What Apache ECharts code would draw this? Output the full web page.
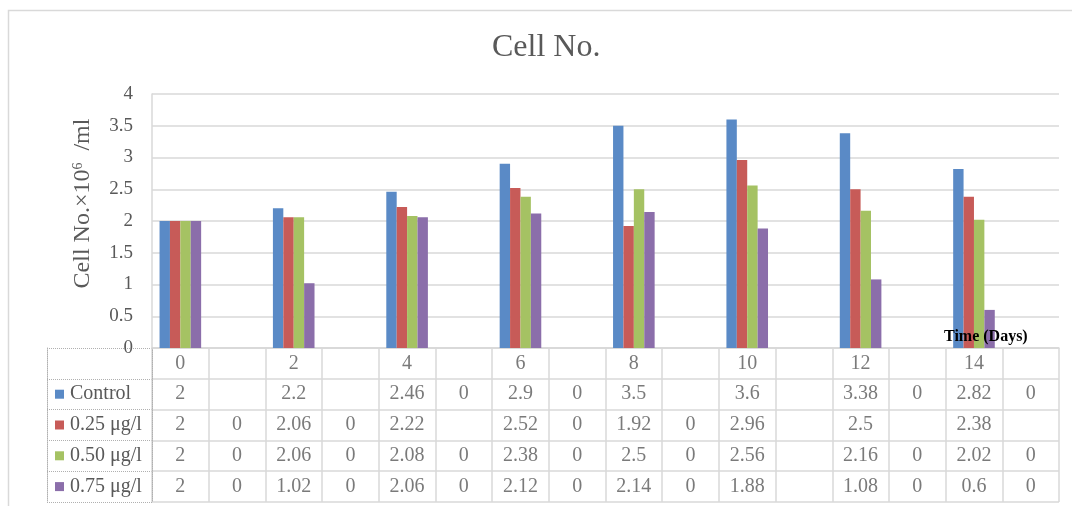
<!DOCTYPE html>
<html>
<head>
<meta charset="utf-8">
<script src="https://cdn.jsdelivr.net/npm/echarts@6/dist/echarts.min.js"></script>
<style>
  html, body { margin: 0; padding: 0; background: #fff; }
  #chart { width: 1072px; height: 506px; }
</style>
</head>
<body>
<div id="chart"></div>
<script>
// ---- data ----
const categories = ['0', '', '2', '', '4', '', '6', '', '8', '', '10', '', '12', '', '14', ''];
const seriesNames = ['Control', '0.25 μg/l', '0.50 μg/l', '0.75 μg/l'];
const control = [2, null, 2.2, null, 2.46, 0, 2.9, 0, 3.5, null, 3.6, null, 3.38, 0, 2.82, 0];
const conc025 = [2, 0, 2.06, 0, 2.22, null, 2.52, 0, 1.92, 0, 2.96, null, 2.5, null, 2.38, null];
const conc050 = [2, 0, 2.06, 0, 2.08, 0, 2.38, 0, 2.5, 0, 2.56, null, 2.16, 0, 2.02, 0];
const conc075 = [2, 0, 1.02, 0, 2.06, 0, 2.12, 0, 2.14, 0, 1.88, null, 1.08, 0, 0.6, 0];
const yMin = 0, yMax = 4, yStep = 0.5;
const titleText = 'Cell No.';
const xName = 'Time (Days)';

// ---- styles ----
const colors = ['#5A8AC6', '#C75B58', '#A5C263', '#8B6EAA'];
const serif = '"Liberation Serif", "Times New Roman", serif';
const textGrey = '#595959';
const gridGrey = '#D9D9D9';
const dotGrey = '#B0B0B0';

const allSeries = [control, conc025, conc050, conc075];
const rowNames = [''].concat(seriesNames);

// table cell texts
const cellData = [];
categories.forEach((c, i) => { if (c !== '') cellData.push([i, 0, c]); });
allSeries.forEach((arr, r) => {
  arr.forEach((v, i) => { if (v !== null) cellData.push([i, r + 1, String(v)]); });
});

const rich = { t: { fontFamily: serif, fontSize: 20, color: textGrey, padding: [0, 0, 0, 6] } };
colors.forEach((c, i) => { rich['sq' + i] = { width: 9, height: 9, backgroundColor: c }; });

const chart = echarts.init(document.getElementById('chart'));
chart.setOption({
  animation: false,
  backgroundColor: '#fff',
  title: [
    { text: titleText, left: 492, top: 32, padding: 0,
      textStyle: { fontFamily: serif, fontSize: 32, fontWeight: 'normal', color: textGrey } },
    { text: xName, left: 944, top: 329, padding: 0,
      textStyle: { fontFamily: serif, fontSize: 16, fontWeight: 'bold', color: '#000' } }
  ],
  graphic: [
    { type: 'rect', z: -1, shape: { x: 8.5, y: 10.5, width: 1200, height: 700 },
      style: { fill: 'none', stroke: gridGrey, lineWidth: 1.5 } }
  ],
  grid: [
    { left: 152, right: 13, top: 94, height: 254 },
    { left: 152, right: 13, top: 348, height: 154 },
    { left: 47, width: 105, top: 348, height: 154 }
  ],
  xAxis: [
    { type: 'category', gridIndex: 0, data: categories,
      axisLine: { lineStyle: { color: gridGrey, width: 1.5 } },
      axisTick: { show: false }, axisLabel: { show: false } },
    { type: 'category', gridIndex: 1, data: categories,
      axisLine: { show: false }, axisTick: { show: false }, axisLabel: { show: false },
      splitLine: { show: true, lineStyle: { color: gridGrey, width: 1.5 } } },
    { type: 'value', gridIndex: 2, show: false, min: 0, max: 1 }
  ],
  yAxis: [
    { type: 'value', gridIndex: 0, min: yMin, max: yMax, interval: yStep,
      axisLine: { show: true, lineStyle: { color: gridGrey, width: 1.5 } },
      axisTick: { show: false },
      splitLine: { lineStyle: { color: gridGrey, width: 1.5 } },
      axisLabel: { fontFamily: serif, fontSize: 19, color: textGrey, margin: 19 },
      name: 'Cell No.×10{sup|6}  /ml', nameLocation: 'middle', nameRotate: 90, nameGap: 57,
      nameTextStyle: {
        fontFamily: serif, fontSize: 24, color: textGrey, padding: [0, 0, 0, 35],
        rich: {
          sup: { fontFamily: serif, fontSize: 14, color: textGrey, verticalAlign: 'top', lineHeight: 24 }
        }
      } },
    { type: 'category', gridIndex: 1, data: rowNames, inverse: true,
      axisLine: { show: true, lineStyle: { color: dotGrey, type: 'dotted' } },
      axisTick: { show: false }, axisLabel: { show: false },
      splitLine: { show: true, lineStyle: { color: gridGrey, width: 1.5 } } },
    { type: 'category', gridIndex: 2, data: rowNames, inverse: true,
      axisLine: { show: true, lineStyle: { color: dotGrey, type: 'dotted' } },
      axisTick: { show: false },
      splitLine: { show: true, lineStyle: { color: dotGrey, type: 'dotted' } },
      axisLabel: {
        inside: true, margin: 8, align: 'left',
        fontFamily: serif, fontSize: 20, color: textGrey,
        formatter: (val, idx) => idx === 0 ? '' : '{sq' + (idx - 1) + '|}{t|' + val + '}',
        rich: rich
      } }
  ],
  series: allSeries.map((arr, k) => ({
    type: 'bar', name: seriesNames[k], xAxisIndex: 0, yAxisIndex: 0,
    data: arr, barWidth: 10.4, barGap: '0%',
    itemStyle: { color: colors[k] }
  })).concat([{
    type: 'scatter', xAxisIndex: 1, yAxisIndex: 1,
    data: cellData, symbol: 'rect', symbolSize: 1,
    itemStyle: { color: 'rgba(0,0,0,0)' },
    label: { show: true, position: 'inside', formatter: p => p.data[2],
      fontFamily: serif, fontSize: 20, color: textGrey },
    silent: true
  }])
});
</script>
</body>
</html>
